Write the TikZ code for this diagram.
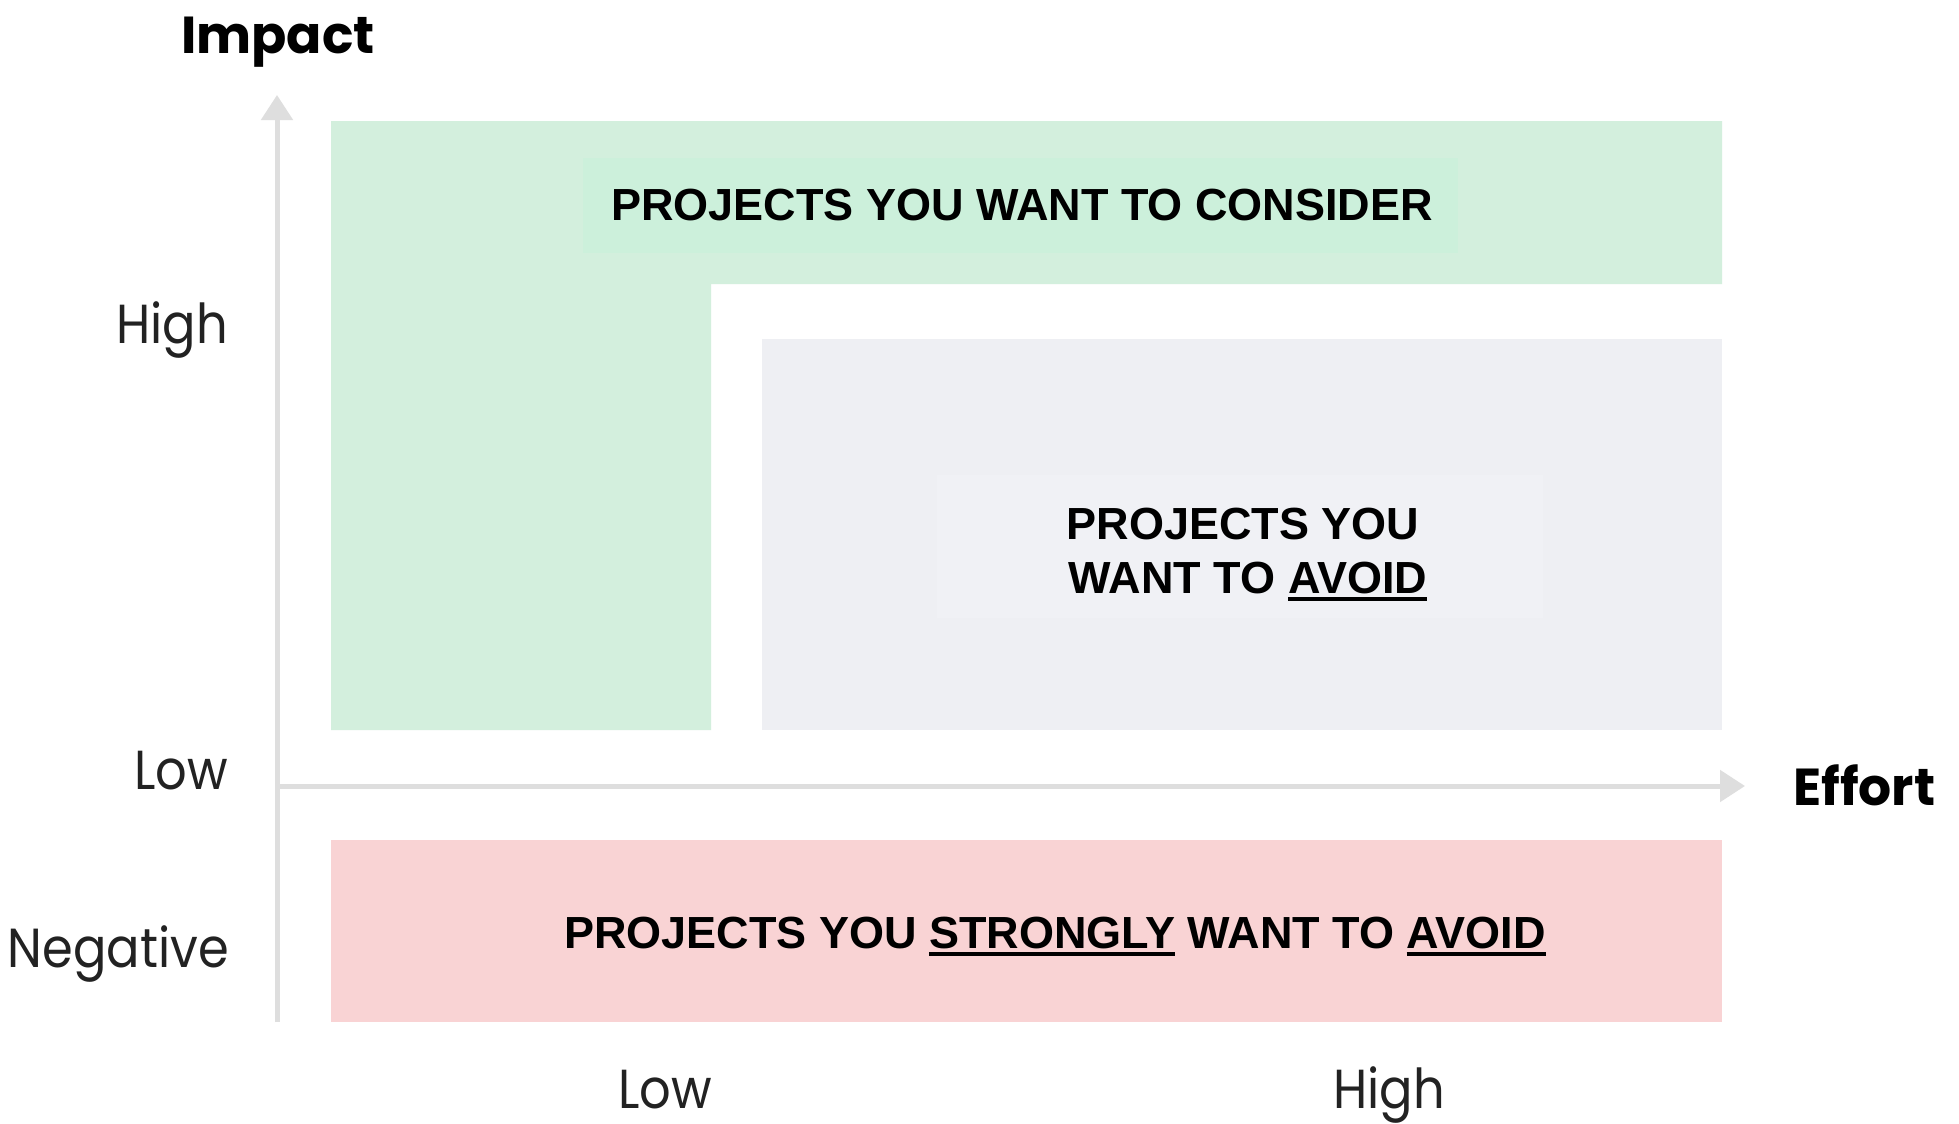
\documentclass[tikz,border=0pt]{standalone}
\usepackage{fontspec}
\setmainfont{Liberation Sans}
\newfontfamily\geofont[FakeStretch=0.9]{Poppins}
\newfontfamily\geobold{Poppins}
\usetikzlibrary{arrows.meta}
\definecolor{greenbox}{HTML}{D3EFDD}
\definecolor{greentext}{HTML}{CCF0DB}
\definecolor{greybox}{HTML}{EEEFF3}
\definecolor{greytext}{HTML}{F0F1F5}
\definecolor{redbox}{HTML}{F9D3D4}
\definecolor{axisgrey}{HTML}{DEDEDE}
\definecolor{labelink}{HTML}{222222}
\newcommand{\myul}[1]{\setbox0\hbox{#1}\rlap{\rule[-8pt]{\wd0}{4.5pt}}\box0\relax}
\tikzset{
  axisline/.style={draw=axisgrey, line width=5pt, -{Triangle[length=25pt,width=31pt]}},
  ticklabel/.style={font=\geofont\fontsize{55}{60}\selectfont, text=labelink, inner sep=0pt},
  axistitle/.style={font=\geobold\bfseries\fontsize{52}{60}\selectfont, text=black, inner sep=0pt},
  boxtext/.style={font=\bfseries\fontsize{45}{54}\selectfont, text=black, inner sep=0pt},
}
\begin{document}
\begin{tikzpicture}[x=1pt,y=-1pt]
\useasboundingbox (0,0) rectangle (1959,1124);
\fill[white] (0,0) rectangle (1959,1124);
% regions
\fill[greenbox] (331,121) -- (1722,121) -- (1722,284) -- (711,284) -- (711,730) -- (331,730) -- cycle;
\fill[greentext] (583,158) rectangle (1458,253);
\fill[greybox] (762,339) rectangle (1722,730);
\fill[greytext] (937,475) rectangle (1543,618);
\fill[redbox] (331,840) rectangle (1722,1022);
% axes
\coordinate (ybot) at (277,1022);
\coordinate (ytop) at (277,95);
\coordinate (xleft) at (277,786);
\coordinate (xright) at (1745,786);
\draw[axisline] (ybot) -- (ytop);
\draw[axisline] (xleft) -- (xright);
% axis titles
\node[axistitle, anchor=base] (impact) at (278,53) {Impact};
\node[axistitle, anchor=base west] (effort) at (1793,805) {Effort};
% tick labels
\node[ticklabel, anchor=base east] (yhigh) at (228,343) {High};
\node[ticklabel, anchor=base east] (ylow) at (228,789) {Low};
\node[ticklabel, anchor=base east] (yneg) at (229,967) {Negative};
\node[ticklabel, anchor=base] (xlow) at (665,1108) {Low};
\node[ticklabel, anchor=base] (xhigh) at (1389,1108) {High};
% box texts
\node[boxtext, anchor=base] (consider) at (1022,220) {PROJECTS YOU WANT TO CONSIDER};
\node[boxtext, anchor=base] (avoida) at (1243,539) {PROJECTS YOU};
\node[boxtext, anchor=base] (avoidb) at (1248,593) {WANT TO \myul{AVOID}};
\node[boxtext, anchor=base] (strong) at (1055,948) {PROJECTS YOU \myul{STRONGLY} WANT TO \myul{AVOID}};
\end{tikzpicture}
\end{document}
